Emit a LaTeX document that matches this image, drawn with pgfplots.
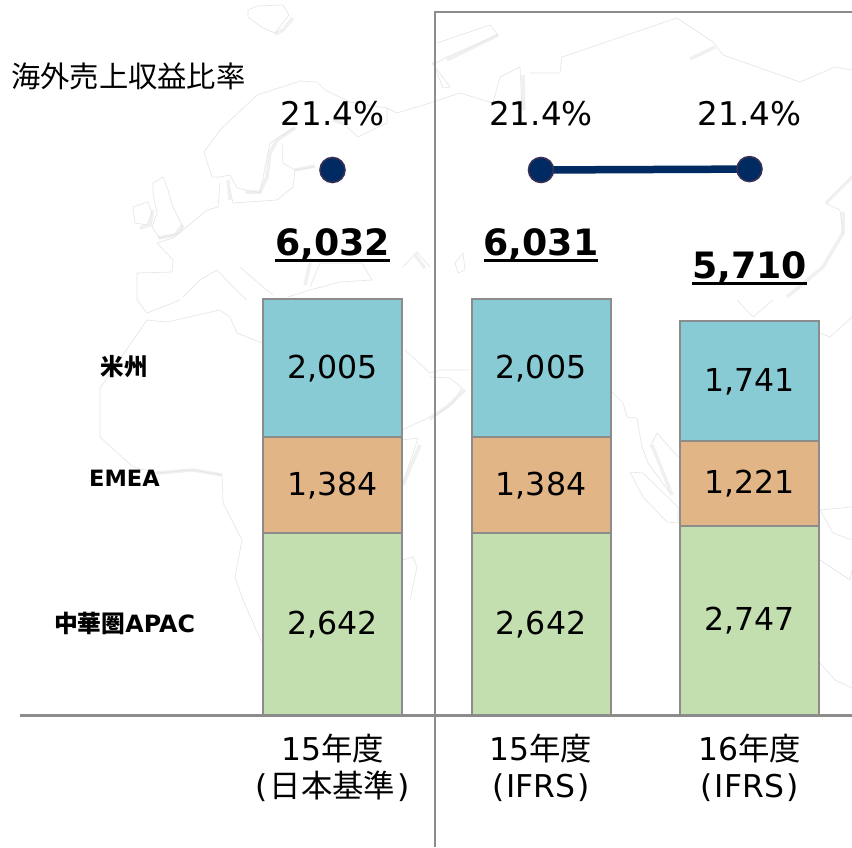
\documentclass[border=0pt]{standalone}
\usepackage{pgfplots}
\pgfplotsset{compat=1.18}
\usepackage{fontspec}
\setmainfont{DejaVu Sans}
\newfontfamily\cjk{Noto Sans CJK JP}
\definecolor{barline}{HTML}{8C8C8C}
\definecolor{cteal}{HTML}{88CBD5}
\definecolor{corange}{HTML}{E2B587}
\definecolor{cgreen}{HTML}{C3DFAF}
\definecolor{navy}{HTML}{002A62}
\definecolor{navyedge}{HTML}{3A2F55}
\definecolor{mapl}{HTML}{E6E6E6}
\definecolor{maps}{HTML}{F0F0F0}
\newcommand\fs[1]{\fontsize{#1}{#1}\selectfont}
\newcommand\ulx[1]{\setbox0\hbox{#1}\rlap{\rule[-6.5pt]{\wd0}{2.5pt}}\box0}
\pgfplotsset{base/.style={at={(0,0)},anchor=south west,scale only axis,width=852pt,height=847pt,hide axis},
 px/.style={base,xmin=0,xmax=852,ymin=0,ymax=847,y dir=reverse},
 ml/.style={mapl,line width=0.7pt,no markers,forget plot},
 ms/.style={maps,line width=3.5pt,no markers,forget plot}}
\begin{document}
\begin{tikzpicture}
\path[use as bounding box] (0,0) rectangle (852pt,847pt);
% background map
\begin{axis}[px]
\addplot[ms] coordinates {(275,34)(283,30)(293,18)};
\addplot[ms] coordinates {(295,128)(277,140)(270,153)(267,177)(260,192)(245,192)};
\addplot[ms] coordinates {(295,170)(315,166)};
\addplot[ms] coordinates {(228,180)(230,200)};
\addplot[ms] coordinates {(183,225)(175,235)(158,238)};
\addplot[ms] coordinates {(153,210)(150,225)(140,228)};
\addplot[ms] coordinates {(333,120)(347,125)};
\addplot[ms] coordinates {(523,75)(524,110)};
\addplot[ms] coordinates {(690,59)(715,47)};
\addplot[ms] coordinates {(447,60)(498,35)};
\addplot[ms] coordinates {(430,418)(447,407)(465,390)};
\addplot[ms] coordinates {(420,445)(403,485)};
\addplot[ms] coordinates {(852,177)(826,203)};
\addplot[ms] coordinates {(843,212)(843,233)(823,267)(787,297)};
\addplot[ms] coordinates {(310,263)(305,285)};
\addplot[ms] coordinates {(415,255)(425,268)};
\addplot[ms] coordinates {(652,445)(672,495)};
\addplot[ms] coordinates {(157,473)(193,470)(222,475)};
\addplot[ml] coordinates {(248,10)(257,6)(283,5)(289,15)(275,33)(263,28)(248,17)(248,10)};
\addplot[ml] coordinates {(204,152)(220,130)(257,95)(300,81)(317,82)(325,90)(350,102)(387,108)(397,113)(430,103)(460,93)(493,103)(500,77)(520,67)(522,110)};
\addplot[ml] coordinates {(530,73)(560,73)(562,57)(677,18)(713,42)(723,55)(800,82)(835,67)(852,70)};
\addplot[ml] coordinates {(204,152)(212,177)(220,177)(230,175)(237,188)(260,193)(270,143)(295,127)};
\addplot[ml] coordinates {(282,143)(283,163)(295,170)(315,167)};
\addplot[ml] coordinates {(295,170)(293,187)(277,200)(233,203)(230,190)};
\addplot[ml] coordinates {(153,183)(163,177)(168,190)(173,207)(183,227)(180,233)(160,238)(152,227)(157,213)(153,193)(153,183)};
\addplot[ml] coordinates {(133,207)(148,202)(152,213)(147,225)(135,223)(133,207)};
\addplot[ml] coordinates {(220,183)(218,207)(207,210)(183,230)(173,238)(157,243)(173,260)(172,272)(137,273)(137,300)(147,313)(180,300)};
\addplot[ml] coordinates {(183,297)(200,280)(217,270)(233,287)(247,300)};
\addplot[ml] coordinates {(240,267)(263,287)(273,295)};
\addplot[ml] coordinates {(288,297)(310,290)(340,282)(372,280)(362,263)(320,263)(310,287)};
\addplot[ml] coordinates {(403,267)(417,252)(430,267)};
\addplot[ml] coordinates {(147,320)(167,322)(220,310)(230,317)(237,333)(262,343)};
\addplot[ml] coordinates {(147,320)(100,388)(100,437)(133,467)(157,473)(193,470)(222,475)(223,503)(242,540)(235,577)(243,600)(262,643)};
\addplot[ml] coordinates {(405,350)(430,373)(440,370)(470,370)};
\addplot[ml] coordinates {(402,430)(430,417)};
\addplot[ml] coordinates {(402,440)(418,438)(403,483)};
\addplot[ml] coordinates {(403,560)(413,557)(417,567)(410,600)};
\addplot[ml] coordinates {(430,377)(450,378)(462,388)(453,403)(430,420)};
\addplot[ml] coordinates {(612,392)(623,403)(627,417)(637,418)(642,447)(648,463)(670,493)};
\addplot[ml] coordinates {(650,447)(657,433)(678,457)};
\addplot[ml] coordinates {(630,472)(643,473)(678,507)(678,523)(667,522)(643,497)(630,472)};
\addplot[ml] coordinates {(820,510)(852,507)};
\addplot[ml] coordinates {(820,510)(833,533)(852,540)};
\addplot[ml] coordinates {(820,560)(850,580)(852,570)};
\addplot[ml] coordinates {(737,300)(753,317)(773,300)};
\addplot[ml] coordinates {(820,333)(830,337)(852,317)};
\addplot[ml] coordinates {(825,203)(840,210)(843,235)};
\addplot[ml] coordinates {(455,263)(463,253)(465,270)(458,273)(455,263)};
\addplot[ml] coordinates {(437,43)(490,25)(498,35)(447,57)(438,62)(432,63)(450,87)(443,88)(433,63)};
\addplot[ml] coordinates {(347,127)(358,137)(387,123)(387,107)};
\addplot[ml] coordinates {(820,663)(835,680)(852,688)};
\end{axis}
% stacked bars
\begin{axis}[base,ybar stacked,xmin=-1.5947,xmax=2.4916,ymin=-1914,ymax=10367,
 bar width=0.6667,
 nodes near coords,
 every node near coord/.append style={font=\fs{31.6},text=black,text height=23pt,text depth=0pt,yshift=1pt,
   /pgf/number format/.cd,assume math mode=true,1000 sep={,}},
 ]
\addplot[fill=cgreen,draw=barline,line width=2pt] coordinates {(0,2642)(1,2642)(2,2747)};
\addplot[fill=corange,draw=barline,line width=2pt] coordinates {(0,1384)(1,1384)(2,1221)};
\addplot[fill=cteal,draw=barline,line width=2pt] coordinates {(0,2005)(1,2005)(2,1741)};
\end{axis}
% overseas revenue ratio
\begin{axis}[base,xmin=-1.5947,xmax=2.4916,ymin=-1.1667,ymax=27.0667]
\addplot[navy,line width=7.5pt,no markers] coordinates {(1,21.4)(2,21.43)};
\addplot[only marks,mark=*,mark size=12.5pt,mark options={fill=navy,draw=navyedge,line width=1.6pt}] coordinates {(0,21.4)(1,21.4)(2,21.43)};
\end{axis}
% frame, baseline and text
\begin{axis}[px,clip=false]
\addplot[barline,line width=2pt,no markers] coordinates {(434.5,847)(434.5,11.5)(852,11.5)};
\addplot[barline,line width=2.6pt,no markers] coordinates {(20,715.5)(852,715.5)};
\node[anchor=base west,inner sep=0pt,font=\fs{29.3}\cjk] at (axis cs:11,87.5) {海外売上収益比率};
\node[anchor=base,inner sep=0pt,font=\fs{32.6}] at (axis cs:332.5,125) {21.4\%};
\node[anchor=base,inner sep=0pt,font=\fs{32.6}] at (axis cs:541,125) {21.4\%};
\node[anchor=base,inner sep=0pt,font=\fs{32.6}] at (axis cs:749.5,125) {21.4\%};
\node[anchor=base,inner sep=0pt,font=\fs{36.3}\bfseries] at (axis cs:332.5,255) {\ulx{6,032}};
\node[anchor=base,inner sep=0pt,font=\fs{36.3}\bfseries] at (axis cs:541,255) {\ulx{6,031}};
\node[anchor=base,inner sep=0pt,font=\fs{36.3}\bfseries] at (axis cs:749.5,278) {\ulx{5,710}};
\node[anchor=center,inner sep=0pt,font=\fs{23.5}\cjk\bfseries] at (axis cs:124,367) {米州};
\node[anchor=center,inner sep=0pt,font=\fs{22.5}\bfseries] at (axis cs:124.5,478) {EMEA};
\node[anchor=center,inner sep=0pt,font=\fs{23.8}\bfseries] at (axis cs:124.5,623) {{\cjk 中華圏}APAC};
\node[anchor=base,inner sep=0pt,font=\fs{31.4}] at (axis cs:332.5,760) {15{\cjk 年度}};
\node[anchor=base,inner sep=0pt,font=\fs{31.4}] at (axis cs:541,760) {15{\cjk 年度}};
\node[anchor=base,inner sep=0pt,font=\fs{31.4}] at (axis cs:749.5,760) {16{\cjk 年度}};
\node[anchor=base,inner sep=0pt,font=\fs{31.4}] at (axis cs:332.5,797) {(\hspace{2pt}{\cjk 日本基準}\hspace{2pt})};
\node[anchor=base,inner sep=0pt,font=\fs{31.4}] at (axis cs:541,797) {(\hspace{2pt}IFRS\hspace{2pt})};
\node[anchor=base,inner sep=0pt,font=\fs{31.4}] at (axis cs:749.5,797) {(\hspace{2pt}IFRS\hspace{2pt})};
\end{axis}
\end{tikzpicture}
\end{document}
